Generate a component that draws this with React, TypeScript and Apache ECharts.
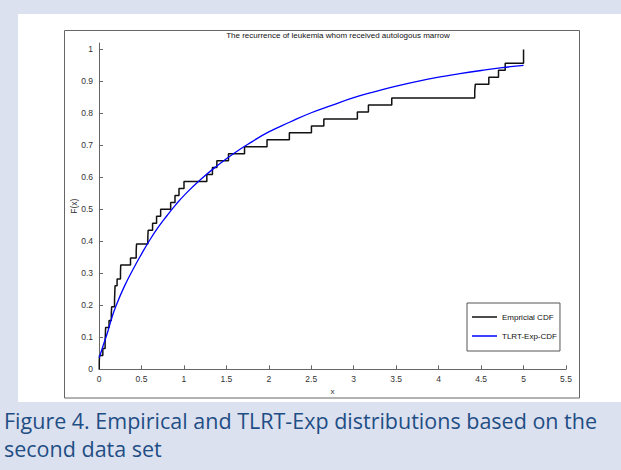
import React, { useEffect, useRef } from "react";
import * as echarts from "echarts";

// Sorted sample values (years) (n = 46)
const samples: number[] = [
  0.003, 0.006, 0.045, 0.072, 0.075, 0.078, 0.118, 0.145, 0.149, 0.183,
  0.186, 0.189, 0.213, 0.253, 0.256, 0.371, 0.438, 0.442, 0.575, 0.579,
  0.631, 0.678, 0.726, 0.844, 0.895, 0.942, 1.001, 1.27, 1.336, 1.388,
  1.525, 1.714, 1.979, 2.242, 2.502, 2.648, 3.043, 3.173, 3.448, 4.425,
  4.432, 4.591, 4.705, 4.784, 5.0, 5.0,
];

// Fitted TLRT-Exp CDF
const tlrtX: number[] = [
  0.003, 0.05, 0.1, 0.15, 0.2, 0.3, 0.4, 0.5, 0.6, 0.7, 0.8, 0.9, 1.0, 1.2,
  1.4, 1.6, 1.8, 2.0, 2.25, 2.5, 2.75, 3.0, 3.25, 3.5, 3.75, 4.0, 4.25, 4.5,
  4.75, 5.0,
];
const tlrtF: number[] = [
  0.036, 0.075, 0.115, 0.16, 0.198, 0.26, 0.312, 0.36, 0.405, 0.445, 0.48,
  0.513, 0.543, 0.594, 0.638, 0.677, 0.711, 0.742, 0.773, 0.802, 0.826,
  0.849, 0.868, 0.885, 0.9, 0.913, 0.924, 0.934, 0.943, 0.95,
];

const yTicks: number[] = [0, 0.1, 0.2, 0.3, 0.4, 0.5, 0.6, 0.7, 0.8, 0.9, 1];

const chartTitle = "The recurrence of leukemia whom received autologous marrow";
const captionLine1 = "Figure 4. Empirical and TLRT-Exp distributions based on the";
const captionLine2 = "second data set";
const seriesNames = ["Empricial CDF", "TLRT-Exp-CDF"];

function ecdfPoints(s: number[]): number[][] {
  const n = s.length;
  const pts: number[][] = [[s[0], 0]];
  for (let i = 0; i < n; i++) {
    if (i + 1 < n && s[i + 1] === s[i]) continue;
    pts.push([s[i], (i + 1) / n]);
  }
  return pts;
}

const App: React.FC = () => {
  const ref = useRef<HTMLDivElement>(null);

  useEffect(() => {
    document.body.style.margin = "0";
    if (!ref.current) return;
    const chart = echarts.init(ref.current, undefined, { renderer: "svg" });
    const font = "Liberation Sans";
    chart.setOption({
      animation: false,
      backgroundColor: "#dce1ef",
      title: {
        text: chartTitle,
        left: 333,
        top: 26,
        textAlign: "center",
        textStyle: { fontFamily: font, fontSize: 8, fontWeight: "normal", color: "#111" },
      },
      grid: { left: 99, top: 43, width: 467, height: 326.3, containLabel: false },
      legend: {
        orient: "vertical",
        left: 467,
        top: 303,
        padding: [10, 3, 11, 5],
        itemGap: 11,
        itemWidth: 25,
        itemHeight: 1.5,
        icon: "rect",
        backgroundColor: "#fff",
        borderColor: "#555",
        borderWidth: 1,
        borderRadius: 0,
        textStyle: { fontFamily: font, fontSize: 8, color: "#111" },
        data: seriesNames,
      },
      xAxis: {
        type: "value",
        min: 0,
        max: 5.5,
        interval: 0.5,
        name: "x",
        nameLocation: "middle",
        nameGap: 18,
        nameMoveOverlap: false,
        nameTextStyle: { fontFamily: font, fontSize: 8, color: "#333" },
        axisLine: { lineStyle: { color: "#666", width: 1 } },
        axisTick: { inside: true, length: 4, lineStyle: { color: "#666" } },
        axisLabel: { fontFamily: font, fontSize: 8.5, color: "#333", margin: 5 },
        splitLine: { show: false },
      },
      yAxis: {
        type: "value",
        min: 0,
        max: 1.02,
        name: "F(x)",
        nameLocation: "middle",
        nameGap: 21,
        nameMoveOverlap: false,
        nameTextStyle: { fontFamily: font, fontSize: 8.5, color: "#333" },
        axisLine: { show: true, lineStyle: { color: "#666", width: 1 } },
        axisTick: { show: true, inside: true, length: 4, lineStyle: { color: "#666" }, customValues: yTicks },
        axisLabel: { fontFamily: font, fontSize: 8.5, color: "#333", margin: 6, customValues: yTicks },
        splitLine: { show: false },
      },
      graphic: [
        { type: "rect", z: -10, shape: { x: 18, y: 14, width: 610, height: 388 }, style: { fill: "#fff" } },
        { type: "rect", z: -9, shape: { x: 64.5, y: 30.5, width: 515, height: 367.5 }, style: { fill: "none", stroke: "#666", lineWidth: 1 } },
        { type: "text", x: 4, y: 420, style: { text: captionLine1, font: '21.5px "Open Sans"', fill: "#1f4e85", verticalAlign: "middle" } },
        { type: "text", x: 4, y: 448, style: { text: captionLine2, font: '21.5px "Open Sans"', fill: "#1f4e85", verticalAlign: "middle" } },
      ],
      series: [
        {
          name: seriesNames[0],
          type: "line",
          step: "end",
          symbol: "none",
          data: ecdfPoints(samples),
          lineStyle: { color: "#111", width: 1.5 },
          itemStyle: { color: "#111" },
        },
        {
          name: seriesNames[1],
          type: "line",
          smooth: true,
          symbol: "none",
          data: tlrtX.map((x, i) => [x, tlrtF[i]]),
          lineStyle: { color: "#0000ff", width: 1.3 },
          itemStyle: { color: "#0000ff" },
        },
      ],
    });
    return () => chart.dispose();
  }, []);

  return <div ref={ref} style={{ width: 621, height: 470 }} />;
};

export default App;
